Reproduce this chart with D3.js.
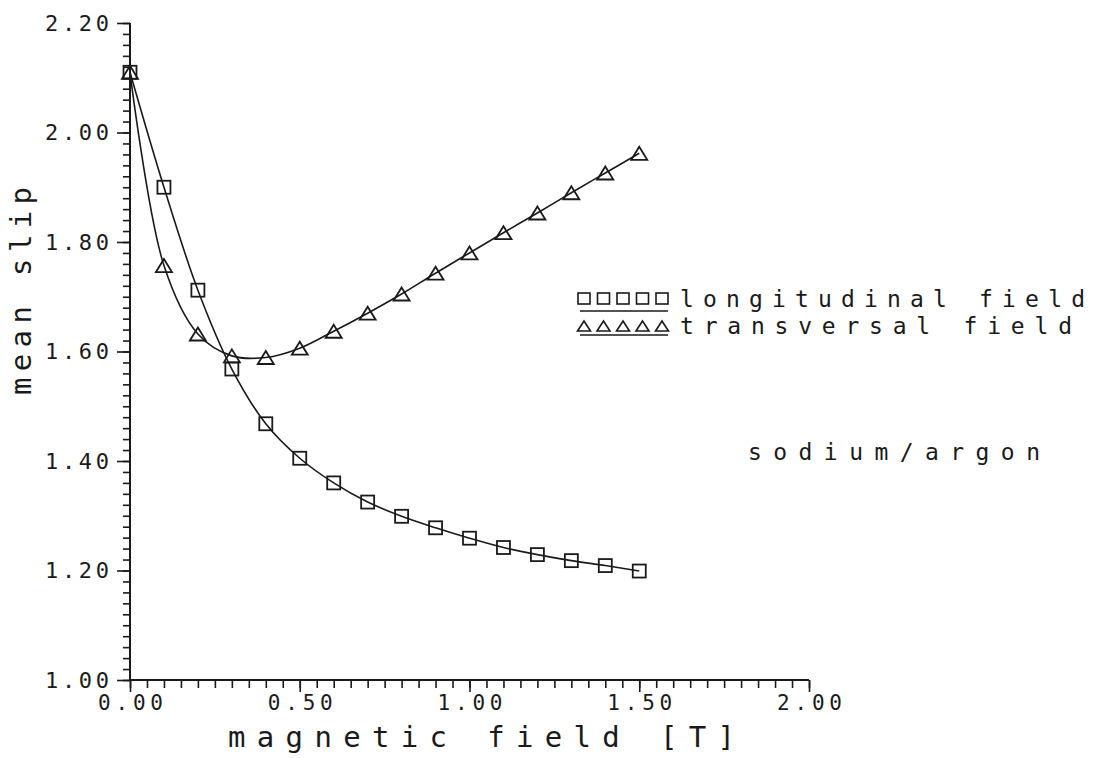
<!DOCTYPE html>
<html>
<head>
<meta charset="utf-8">
<script src="https://cdn.jsdelivr.net/npm/d3@7"></script>
<style>
  html, body { margin: 0; padding: 0; background: #fff; }
  svg text { font-family: "DejaVu Sans Mono", "Liberation Mono", monospace; fill: #1a1a1a; }
</style>
</head>
<body>
<svg id="chart" width="1101" height="758"></svg>
<script>
// ---- data ----
const fields = [0.0, 0.1, 0.2, 0.3, 0.4, 0.5, 0.6, 0.7, 0.8, 0.9, 1.0, 1.1, 1.2, 1.3, 1.4, 1.5];
const longitudinal = [2.11, 1.90, 1.712, 1.568, 1.468, 1.405, 1.360, 1.325, 1.299, 1.278, 1.259, 1.242, 1.229, 1.218, 1.209, 1.199];
const transversal  = [2.11, 1.757, 1.632, 1.592, 1.589, 1.606, 1.637, 1.670, 1.705, 1.743, 1.780, 1.817, 1.853, 1.890, 1.926, 1.962];
const yMajorTicks = [1.0, 1.2, 1.4, 1.6, 1.8, 2.0, 2.2];
const xMajorTicks = [0.0, 0.5, 1.0, 1.5, 2.0];
const seriesNames = ["longitudinal field", "transversal field"];
const xTitle = "magnetic field [T]";
const yTitle = "mean slip";
const annotation = "sodium/argon";

// ---- layout ----
const svg = d3.select("#chart");
const ink = "#1a1a1a";
const x = d3.scaleLinear().domain([0, 2.0]).range([130, 809]);
const y = d3.scaleLinear().domain([1.0, 2.2]).range([680, 23]);

const yMinor = d3.range(0, 61).map(i => 1.0 + i * 0.02);
const xMinor = d3.range(0, 41).map(i => i * 0.05);

// minor ticks
const gyMinor = svg.append("g").attr("transform", `translate(${x(0)},0)`)
  .call(d3.axisLeft(y).tickValues(yMinor).tickSize(7).tickFormat(""));
gyMinor.select(".domain").remove();
const gxMinor = svg.append("g").attr("transform", `translate(0,${y(1.0)})`)
  .call(d3.axisBottom(x).tickValues(xMinor).tickSize(8).tickFormat(""));
gxMinor.select(".domain").remove();

// major ticks + labels
const gy = svg.append("g").attr("transform", `translate(${x(0)},0)`)
  .call(d3.axisLeft(y).tickValues(yMajorTicks).tickSize(13).tickPadding(8).tickFormat(d3.format(".2f")));
const gx = svg.append("g").attr("transform", `translate(0,${y(1.0)})`)
  .call(d3.axisBottom(x).tickValues(xMajorTicks).tickSize(12).tickPadding(3).tickFormat(d3.format(".2f")));

[gyMinor, gxMinor, gy, gx].forEach(g => {
  g.selectAll("line").attr("stroke", ink).attr("stroke-width", 1.6);
  g.selectAll(".domain").attr("stroke", ink).attr("stroke-width", 2);
});
gy.select(".domain").attr("d", `M0,${y(2.2)}V${y(1.0)}`);
gx.select(".domain").attr("d", `M${x(0)},0H${x(2.0)}`);

gy.selectAll("text")
  .attr("font-size", 22).attr("fill", ink)
  .attr("textLength", 64).attr("lengthAdjust", "spacing")
  .attr("font-family", "DejaVu Sans Mono");
gx.selectAll("text")
  .attr("font-size", 21).attr("fill", ink)
  .attr("textLength", 65).attr("lengthAdjust", "spacing")
  .attr("font-family", "DejaVu Sans Mono");

// ---- lines ----
const line = d3.line().x(d => x(d[0])).y(d => y(d[1])).curve(d3.curveCatmullRom.alpha(0.5));
const series = [longitudinal, transversal].map(vals => fields.map((f, i) => [f, vals[i]]));
series.forEach(s => {
  svg.append("path").attr("d", line(s)).attr("fill", "none")
    .attr("stroke", ink).attr("stroke-width", 1.6);
});

// ---- markers ----
const sq = 13;
svg.append("g").selectAll("rect").data(series[0]).join("rect")
  .attr("x", d => x(d[0]) - sq / 2).attr("y", d => y(d[1]) - sq / 2)
  .attr("width", sq).attr("height", sq)
  .attr("fill", "none").attr("stroke", ink).attr("stroke-width", 1.8);

const tri = (cx, cy, w, h) => `M${cx - w / 2},${cy + h / 2}L${cx},${cy - h / 2}L${cx + w / 2},${cy + h / 2}Z`;
svg.append("g").selectAll("path").data(series[1]).join("path")
  .attr("d", d => tri(x(d[0]), y(d[1]), 16, 13))
  .attr("fill", "none").attr("stroke", ink).attr("stroke-width", 1.8).attr("stroke-linejoin", "miter");

// ---- legend ----
const legendRows = [{ name: seriesNames[0], cy: 299, kind: "sq", ul: 311 },
                    { name: seriesNames[1], cy: 326, kind: "tri", ul: 335 }];
legendRows.forEach((r, k) => {
  const g = svg.append("g");
  for (let i = 0; i < 5; i++) {
    const cx = 584 + i * 19.5;
    if (r.kind === "sq") {
      g.append("rect").attr("x", cx - 6).attr("y", r.cy - 6).attr("width", 12).attr("height", 11)
        .attr("fill", "none").attr("stroke", ink).attr("stroke-width", 1.6);
    } else {
      g.append("path").attr("d", tri(cx, r.cy, 13, 10))
        .attr("fill", "none").attr("stroke", ink).attr("stroke-width", 1.6);
    }
  }
  g.append("line").attr("x1", 580).attr("x2", 668).attr("y1", r.ul).attr("y2", r.ul)
    .attr("stroke", ink).attr("stroke-width", 1.4);
  g.append("text").attr("x", 680).attr("y", r.cy).attr("dy", "0.36em")
    .attr("font-size", 23).attr("lengthAdjust", "spacing")
    .attr("textLength", k === 0 ? 405 : 392)
    .text(r.name);
});

// ---- annotation ----
svg.append("text").attr("x", 748).attr("y", 452).attr("dy", "0.36em")
  .attr("font-size", 23).attr("textLength", 292).attr("lengthAdjust", "spacing")
  .text(annotation);

// ---- axis titles ----
svg.append("text").attr("x", 228).attr("y", 747)
  .attr("font-size", 29).attr("textLength", 507).attr("lengthAdjust", "spacing")
  .text(xTitle);
svg.append("text").attr("transform", "translate(31,395) rotate(-90)")
  .attr("x", 0).attr("y", 0)
  .attr("font-size", 29).attr("textLength", 208).attr("lengthAdjust", "spacing")
  .text(yTitle);
</script>
</body>
</html>
